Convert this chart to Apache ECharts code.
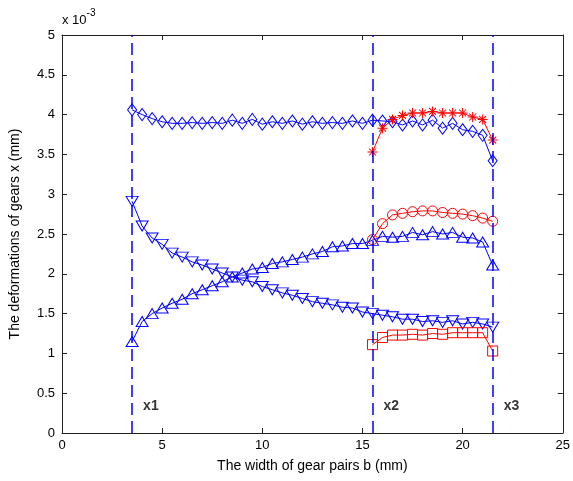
<!DOCTYPE html>
<html>
<head>
<meta charset="utf-8">
<script src="https://cdn.jsdelivr.net/npm/echarts@6/dist/echarts.min.js"></script>
<style>
html,body{margin:0;padding:0;background:#fff;}
#c{width:573px;height:481px;}
</style>
</head>
<body>
<div id="c"></div>
<script>
// x positions (mm)
const xAll = [3.5,4,4.5,5,5.5,6,6.5,7,7.5,8,8.5,9,9.5,10,10.5,11,11.5,12,12.5,13,13.5,14,14.5,15,15.5,16,16.5,17,17.5,18,18.5,19,19.5,20,20.5,21,21.5];
const xRight = [15.5,16,16.5,17,17.5,18,18.5,19,19.5,20,20.5,21,21.5];

// values (x 10^-3 mm)
const diamondVals = [4.06,4.00,3.95,3.91,3.89,3.89,3.90,3.89,3.90,3.89,3.93,3.89,3.94,3.88,3.91,3.89,3.92,3.88,3.91,3.89,3.90,3.89,3.92,3.89,3.93,3.92,3.91,3.87,3.92,3.87,3.93,3.83,3.89,3.81,3.79,3.74,3.42];
const downVals = [2.91,2.60,2.45,2.37,2.26,2.21,2.15,2.11,2.06,2.01,1.96,1.92,1.90,1.84,1.80,1.76,1.73,1.69,1.65,1.63,1.61,1.58,1.57,1.52,1.50,1.48,1.46,1.43,1.43,1.40,1.41,1.39,1.41,1.37,1.39,1.37,1.33];
const upVals = [1.15,1.40,1.50,1.57,1.63,1.68,1.75,1.80,1.85,1.90,1.96,2.01,2.06,2.08,2.13,2.15,2.18,2.21,2.25,2.28,2.34,2.35,2.38,2.38,2.42,2.47,2.46,2.47,2.52,2.49,2.53,2.50,2.52,2.46,2.45,2.40,2.11];
const starVals = [3.53,3.83,3.94,3.99,4.02,4.02,4.04,4.02,4.02,4.02,3.97,3.94,3.68];
const circleVals = [2.43,2.63,2.74,2.76,2.78,2.79,2.79,2.77,2.76,2.75,2.73,2.70,2.66];
const squareVals = [1.11,1.20,1.23,1.23,1.24,1.23,1.25,1.24,1.26,1.26,1.26,1.26,1.03];

// region boundaries and labels
const boundaries = [3.5, 15.5, 21.5];
const regionLabels = ['x1', 'x2', 'x3'];

const xTitle = 'The width of gear pairs b (mm)';
const yTitle = 'The deformations of gears x (mm)';

const BLUE = '#0000ff';
const RED = '#ff0000';
const FONT = 'Liberation Sans, Arial, sans-serif';

const STAR = 'path://M-5,-0.5L5,-0.5L5,0.5L-5,0.5Z M-0.5,-5L0.5,-5L0.5,5L-0.5,5Z M-3.15,-3.85L3.85,3.15L3.15,3.85L-3.85,-3.15Z M3.15,-3.85L3.85,-3.15L-3.15,3.85L-3.85,3.15Z';

function pairs(xs, ys){ return xs.map((x,i)=>[x, ys[i]]); }

function hollowSeries(xs, ys, color, symbol, size, rotate){
  return {
    type:'line', data: pairs(xs, ys), symbol: symbol, symbolSize: size,
    symbolRotate: rotate || 0, showAllSymbol: true, animation:false,
    lineStyle:{color: color, width:1},
    itemStyle:{color:'rgba(0,0,0,0)', borderColor: color, borderWidth:1},
    emphasis:{disabled:true}, z: 3
  };
}

const axisCommon = {
  min:0, axisLine:{show:true, onZero:false, lineStyle:{color:'#222', width:1}},
  axisTick:{show:true, inside:true, length:5, lineStyle:{color:'#222'}},
  splitLine:{show:false},
  axisLabel:{color:'#000', fontSize:13, fontFamily:FONT}
};

const chart = echarts.init(document.getElementById('c'), null, {renderer:'canvas'});
chart.setOption({
  backgroundColor:'#fff',
  animation:false,
  grid:{left:61, right:9, top:35, bottom:48, containLabel:false},
  xAxis:[
    Object.assign({}, axisCommon, {type:'value', max:25, interval:5, position:'bottom',
      name:xTitle, nameLocation:'middle', nameGap:26,
      nameTextStyle:{color:'#000', fontSize:14, fontFamily:FONT},
      axisLabel:Object.assign({}, axisCommon.axisLabel, {margin:6})}),
    Object.assign({}, axisCommon, {type:'value', max:25, interval:5, position:'top',
      axisLabel:{show:false}})
  ],
  yAxis:[
    Object.assign({}, axisCommon, {type:'value', max:5, interval:0.5, position:'left',
      name:yTitle, nameLocation:'middle', nameGap:40,
      nameTextStyle:{color:'#000', fontSize:14, fontFamily:FONT},
      axisLabel:Object.assign({}, axisCommon.axisLabel, {margin:7})}),
    Object.assign({}, axisCommon, {type:'value', max:5, interval:0.5, position:'right',
      axisLabel:{show:false}})
  ],
  graphic:[{
    type:'text', left:62, top:8,
    style:{
      text:'{a|x 10}{b|-3}',
      rich:{
        a:{fontSize:13, fontFamily:FONT, fill:'#000', verticalAlign:'bottom', padding:[6,0,0,0]},
        b:{fontSize:10, fontFamily:FONT, fill:'#000', verticalAlign:'top'}
      }
    }
  }],
  series:[
    {
      type:'line', data:[], animation:false, silent:true,
      markLine:{
        silent:true, symbol:['none','none'], animation:false,
        label:{show:false},
        lineStyle:{color:BLUE, width:1.5, type:[12,6]},
        data: boundaries.map(b=>({xAxis:b}))
      }
    },
    {
      type:'scatter', symbolSize:0, silent:true, animation:false,
      data: boundaries.map((b,i)=>({value:[b, 0.34], name: regionLabels[i]})),
      label:{show:true, position:'right', distance:11, formatter:p=>p.name,
        color:'#000', fontSize:14, fontWeight:'bold', fontFamily:FONT}
    },
    hollowSeries(xAll, diamondVals, BLUE, 'diamond', [9,12]),
    hollowSeries(xAll, downVals, BLUE, 'triangle', [12,10], 180),
    hollowSeries(xAll, upVals, BLUE, 'triangle', [12,10]),
    hollowSeries(xRight, circleVals, RED, 'circle', 10),
    hollowSeries(xRight, squareVals, RED, 'rect', [10,10]),
    {
      type:'line', data: pairs(xRight, starVals), symbol: STAR, symbolSize: 10,
      showAllSymbol:true, animation:false,
      lineStyle:{color:RED, width:1}, itemStyle:{color:RED},
      emphasis:{disabled:true}, z:3
    }
  ]
});
</script>
</body>
</html>
